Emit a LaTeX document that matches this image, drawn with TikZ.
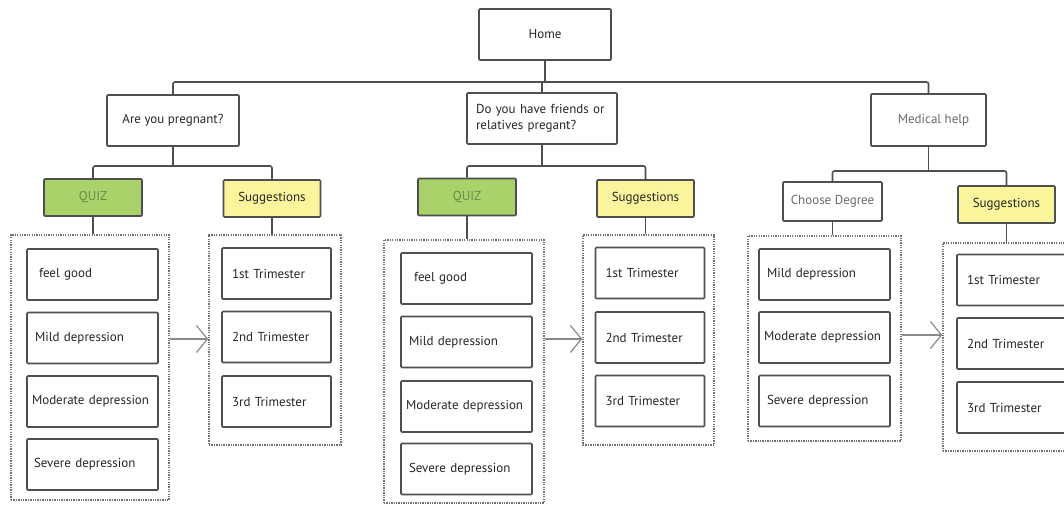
\documentclass[tikz,border=0pt]{standalone}
\usepackage{fontspec}
\setmainfont{PT Sans}
\usetikzlibrary{arrows.meta}
\definecolor{edge}{HTML}{4F4F4F}
\definecolor{quizgreen}{HTML}{A9D36A}
\definecolor{quiztext}{HTML}{6E8A48}
\definecolor{sugyellow}{HTML}{FAF59C}
\definecolor{greytext}{HTML}{6A6A6A}
\definecolor{arrowgrey}{HTML}{8A8A8A}
\tikzset{
  box/.style={draw=edge, line width=1.6pt, rounded corners=1pt, fill=white, inner sep=0pt,
    font=\fontsize{13}{15.5}\selectfont, text=black!85},
  item/.style={box, align=left, inner xsep=5pt},
  quizbox/.style={box, fill=quizgreen, text=quiztext, minimum width=98pt, minimum height=37pt},
  sugbox/.style={box, fill=sugyellow, minimum width=97pt, minimum height=37pt},
  group/.style={draw=edge!80, line width=1.6pt, dash pattern=on 1.3pt off 1.1pt, inner sep=0pt},
  link/.style={draw=edge, line width=1.6pt, rounded corners=2pt},
  arr/.style={draw=arrowgrey, line width=1.2pt, -{Straight Barb[length=11pt,width=27pt,line width=1.2pt]}}
}
\begin{document}
\begin{tikzpicture}[x=1pt,y=-1pt]
\useasboundingbox (0,0) rectangle (1064,505);
\clip (0,0) rectangle (1064,505);
% top levels
\node[box, minimum width=132pt, minimum height=51pt] (home) at (545,34.5) {Home};
\node[box, minimum width=132pt, minimum height=51pt] (preg) at (173,120.5) {Are you pregnant?};
\node[box, minimum width=150pt, minimum height=51pt, align=left, text width=132pt] (friends) at (542,118.5) {Do you have friends or\\relatives pregant?};
\node[box, minimum width=115pt, minimum height=52pt, text=greytext] (med) at (928.5,120) {\hspace*{10pt}Medical help};
% second level
\node[quizbox] (quiz1) at (93,197.5) {QUIZ};
\node[sugbox] (sug1) at (272,198.5) {Suggestions};
\node[quizbox] (quiz2) at (467,197) {QUIZ};
\node[sugbox] (sug2) at (645.5,198.5) {Suggestions};
\node[box, minimum width=99pt, minimum height=39pt, text=greytext] (choose) at (832.5,201.5) {Choose Degree};
\node[sugbox] (sug3) at (1006.5,204.5) {Suggestions};
% groups
\node[group, minimum width=158pt, minimum height=265pt] (g1) at (90,367.5) {};
\node[group, minimum width=132pt, minimum height=210pt] (g2) at (275,340) {};
\node[group, minimum width=160pt, minimum height=263pt] (g3) at (464,371.5) {};
\node[group, minimum width=131pt, minimum height=210pt] (g4) at (648.5,340) {};
\node[group, minimum width=153pt, minimum height=205pt] (g5) at (824.5,338.5) {};
\node[group, minimum width=132pt, minimum height=208pt] (g6) at (1009,347) {};
% items
\begin{scope}[every node/.style={item, minimum width=131pt, minimum height=51pt, text width=121pt}]
\node (g1a) at (92.5,274.5) {\hspace*{7pt}feel good};
\node (g1b) at (92.5,338) {\hspace*{3pt}Mild depression};
\node (g1c) at (92.5,401.5) {Moderate depression};
\node (g1d) at (92.5,464.5) {\hspace*{2pt}Severe depression};
\node (g3a) at (466.5,278.5) {\hspace*{8pt}feel good};
\node (g3b) at (466.5,342) {\hspace*{3pt}Mild depression};
\node (g3c) at (466.5,406.5) {Moderate depression};
\node (g3d) at (466.5,469) {\hspace*{3pt}Severe depression};
\node (g5a) at (824.5,274.5) {\hspace*{3pt}Mild depression};
\node (g5b) at (824.5,337.5) {Moderate depression};
\node (g5c) at (824.5,401) {\hspace*{3pt}Severe depression};
\end{scope}
\begin{scope}[every node/.style={item, minimum width=109pt, minimum height=51pt, text width=99pt}]
\node (g2a) at (276.5,273.5) {\hspace*{5pt}1st Trimester};
\node (g2b) at (276.5,337) {\hspace*{5pt}2nd Trimester};
\node (g2c) at (276.5,401.5) {\hspace*{5pt}3rd Trimester};
\node (g4a) at (650,273) {\hspace*{5pt}1st Trimester};
\node (g4b) at (650,337.5) {\hspace*{5pt}2nd Trimester};
\node (g4c) at (650,401) {\hspace*{5pt}3rd Trimester};
\node (g6a) at (1011.5,280) {\hspace*{5pt}1st Trimester};
\node (g6b) at (1011.5,343.5) {\hspace*{5pt}2nd Trimester};
\node (g6c) at (1011.5,407.5) {\hspace*{5pt}3rd Trimester};
\end{scope}
% buses
\coordinate (b1) at (545,82);
\coordinate (b2) at (173,166);
\coordinate (b3) at (542,166);
\coordinate (b4) at (928.5,171);
\draw[link] (home.south) -- (b1);
\draw[link] (preg.north) |- (b1) -| (med.north);
\draw[link] (friends.north) -- (friends.north |- b1);
\draw[link] (preg.south) -- (b2);
\draw[link] (quiz1.north) |- (b2) -| (sug1.north);
\draw[link] (friends.south) -- (b3);
\draw[link] (quiz2.north) |- (b3) -| (sug2.north);
\draw[link] (med.south) -- (b4);
\draw[link] (choose.north) |- (b4) -| (sug3.north);
% to groups
\draw[link] (quiz1.south) -- (quiz1.south |- g1.north);
\draw[link] (sug1.south) -- (sug1.south |- g2.north);
\draw[link] (quiz2.south) -- (quiz2.south |- g3.north);
\draw[link] (sug2.south) -- (sug2.south |- g4.north);
\draw[link] (choose.south) -- (choose.south |- g5.north);
\draw[link] (sug3.south) -- (sug3.south |- g6.north);
% arrows
\coordinate (a1) at (0,339);
\coordinate (a3) at (0,335);
\draw[arr] (g1.east |- a1) -- (g2.west |- a1);
\draw[arr] (g3.east |- a1) -- (g4.west |- a1);
\draw[arr] (g5.east |- a3) -- (g6.west |- a3);
\end{tikzpicture}
\end{document}
